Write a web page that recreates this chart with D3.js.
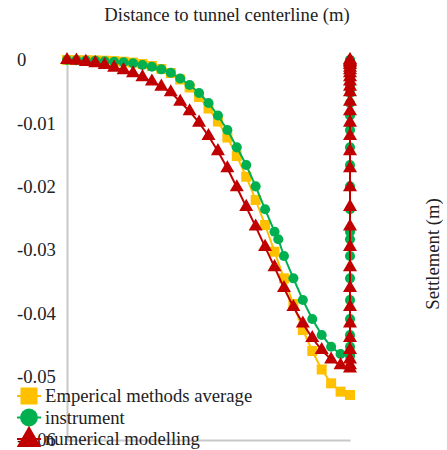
<!DOCTYPE html>
<html lang="en">
<head>
<meta charset="utf-8">
<title>Settlement profile</title>
<script src="https://d3js.org/d3.v7.min.js"></script>
<style>
  body { margin: 0; background: #fff; }
  svg text { font-family: "Liberation Serif", "Tinos", "Times New Roman", Times, "DejaVu Serif", serif !important; fill: #222; }
</style>
</head>
<body>
<script type="text/javascript">

// distance to tunnel centerline (m), left half of the profile
var distance = [-60, -58, -56, -54, -52, -50, -48, -46, -44, -42, -40, -38, -36, -34, -32, -30,
                -28, -26, -24, -22, -20, -18, -16, -14, -12, -10, -8, -6, -4, -2, 0];
// instrument readings have one extra station at -15.2 m
var distanceInstrument = [-60, -58, -56, -54, -52, -50, -48, -46, -44, -42, -40, -38, -36, -34, -32, -30,
                -28, -26, -24, -22, -20, -18, -16, -15.2, -14, -12, -10, -8, -6, -4, -2, 0];

// settlement (m)
var empirical = [0, -0.00002, -0.00003, -0.00006, -0.00011, -0.00017, -0.00027, -0.00041, -0.00063, -0.00095,
                 -0.00142, -0.00205, -0.00308, -0.00434, -0.00584, -0.00766, -0.00971, -0.01224, -0.01516, -0.01843,
                 -0.02211, -0.02605, -0.03027, -0.03447, -0.03853, -0.04263, -0.04595, -0.04887, -0.05105, -0.05237, -0.05289];

var instrument = [0, -0.00003, -0.00008, -0.00013, -0.00019, -0.00027, -0.00036, -0.00052, -0.00079, -0.00106,
                  -0.00147, -0.00202, -0.00292, -0.00395, -0.00521, -0.00679, -0.00876, -0.01105, -0.01379, -0.01658,
                  -0.01995, -0.02357, -0.02711, -0.02831, -0.03095, -0.03447, -0.03789, -0.04089, -0.04342, -0.04527,
                  -0.04642, -0.04674];
// right half, all plotted at the last distance
var instrumentRight = [-0.04642, -0.04527, -0.04342, -0.04089, -0.03789, -0.03447, -0.03095, -0.02831, -0.02711,
                       -0.02357, -0.01995, -0.01658, -0.01379, -0.01105, -0.00876, -0.00679, -0.00521, -0.00395,
                       -0.00292, -0.00202, -0.00147, -0.00106, -0.00079, -0.00052, -0.00036, -0.00027, -0.00019,
                       -0.00013, -0.00008, -0.00003, 0];

var numerical = [0, -0.0001, -0.0003, -0.0005, -0.0008, -0.0012, -0.0016, -0.0021, -0.0027, -0.0034,
                 -0.0042, -0.0051, -0.0066, -0.0081, -0.0099, -0.0120, -0.0144, -0.0171, -0.0201, -0.0232,
                 -0.0263, -0.0295, -0.0327, -0.0360, -0.0390, -0.0416, -0.0439, -0.0458, -0.0473, -0.0482, -0.0487];
var numericalRight = [-0.0482, -0.0473, -0.0458, -0.0439, -0.0416, -0.0390, -0.0360, -0.0327, -0.0295, -0.0263,
                      -0.0232, -0.0201, -0.0171, -0.0144, -0.0120, -0.0099, -0.0081, -0.0066, -0.0051, -0.0042,
                      -0.0034, -0.0027, -0.0021, -0.0016, -0.0012, -0.0008, -0.0005, -0.0003, -0.0001, 0];

var yTicks = [0, -0.01, -0.02, -0.03, -0.04, -0.05, -0.06];
var yTickLabels = ["0", "-0.01", "-0.02", "-0.03", "-0.04", "-0.05", "-0.06"];
var seriesNames = ["Emperical methods average", "instrument", "numerical modelling"];
var seriesColors = ["#FFC000", "#00B050", "#C00000"];

var w = 447, h = 450;
var serif = "'Liberation Serif', Tinos, 'Times New Roman', Times, 'DejaVu Serif', serif";

var xScale = d3.scaleLinear().domain([-60, 0]).range([67, 350]);
var yScale = d3.scaleLinear().domain([-0.06, 0]).range([440, 60]);

var svg = d3.select("body").append("svg").attr("width", w).attr("height", h)
  .attr("font-family", serif);

// build point lists
function pts(xs, ys) {
  return ys.map(function(v, i) { return {x: xs[i], y: v}; });
}
var foldX = distance[distance.length - 1];
var data = [
  pts(distance, empirical),
  pts(distanceInstrument, instrument).concat(instrumentRight.map(function(v) { return {x: foldX, y: v}; })),
  pts(distance, numerical).concat(numericalRight.map(function(v) { return {x: foldX, y: v}; }))
];

// axes
var yAxis = d3.axisLeft(yScale).tickValues(yTicks).tickSize(0).tickSizeOuter(0)
  .tickFormat(function(d, i) { return yTickLabels[i]; });
var gy = svg.append("g").attr("transform", "translate(" + xScale(-60) + ",0)").call(yAxis)
  .attr("font-family", serif).attr("font-size", 18.67);
gy.select(".domain").attr("stroke", "#c8c8c8").attr("stroke-width", 2);
gy.selectAll("text").attr("x", 17 - xScale(-60)).attr("dy", "0.32em")
  .attr("text-anchor", "start").attr("fill", "#222");

var xAxis = d3.axisBottom(xScale).tickValues([]).tickSizeOuter(0);
var gx = svg.append("g").attr("transform", "translate(0," + yScale(-0.06) + ")").call(xAxis);
gx.select(".domain").attr("stroke", "#c8c8c8").attr("stroke-width", 2);

// titles
svg.append("text").attr("x", 227).attr("y", 21).attr("text-anchor", "middle")
  .attr("font-size", 18.67).text("Distance to tunnel centerline (m)");
svg.append("text").attr("transform", "translate(439,254) rotate(-90)").attr("text-anchor", "middle")
  .attr("font-size", 18.67).text("Settlement (m)");

// series
var line = d3.line().x(function(d) { return xScale(d.x); }).y(function(d) { return yScale(d.y); });
var symbols = [d3.symbolSquare, d3.symbolCircle, d3.symbolTriangle];
var symbolSizes = [100, 80, 85];

data.forEach(function(s, k) {
  var g = svg.append("g");
  g.append("path").datum(s).attr("d", line).attr("fill", "none")
    .attr("stroke", seriesColors[k]).attr("stroke-width", 2);
  g.selectAll("path.m").data(s).enter().append("path").attr("class", "m")
    .attr("transform", function(d) { return "translate(" + xScale(d.x) + "," + yScale(d.y) + ")"; })
    .attr("d", d3.symbol().type(symbols[k]).size(symbolSizes[k]))
    .attr("fill", seriesColors[k]);
});

// legend
var legendSizes = [290, 250, 260];
var leg = svg.append("g");
seriesNames.forEach(function(name, k) {
  var cy = 396 + k * 21.5;
  leg.append("line").attr("x1", 17).attr("x2", 41).attr("y1", cy).attr("y2", cy)
    .attr("stroke", seriesColors[k]).attr("stroke-width", 2);
  leg.append("path").attr("transform", "translate(29," + (cy + (k === 2 ? 1 : 0)) + ")")
    .attr("d", d3.symbol().type(symbols[k]).size(legendSizes[k]))
    .attr("fill", seriesColors[k]);
  leg.append("text").attr("x", 45).attr("y", cy + 6).attr("font-size", 18.67).text(name);
});

</script>
</body>
</html>
